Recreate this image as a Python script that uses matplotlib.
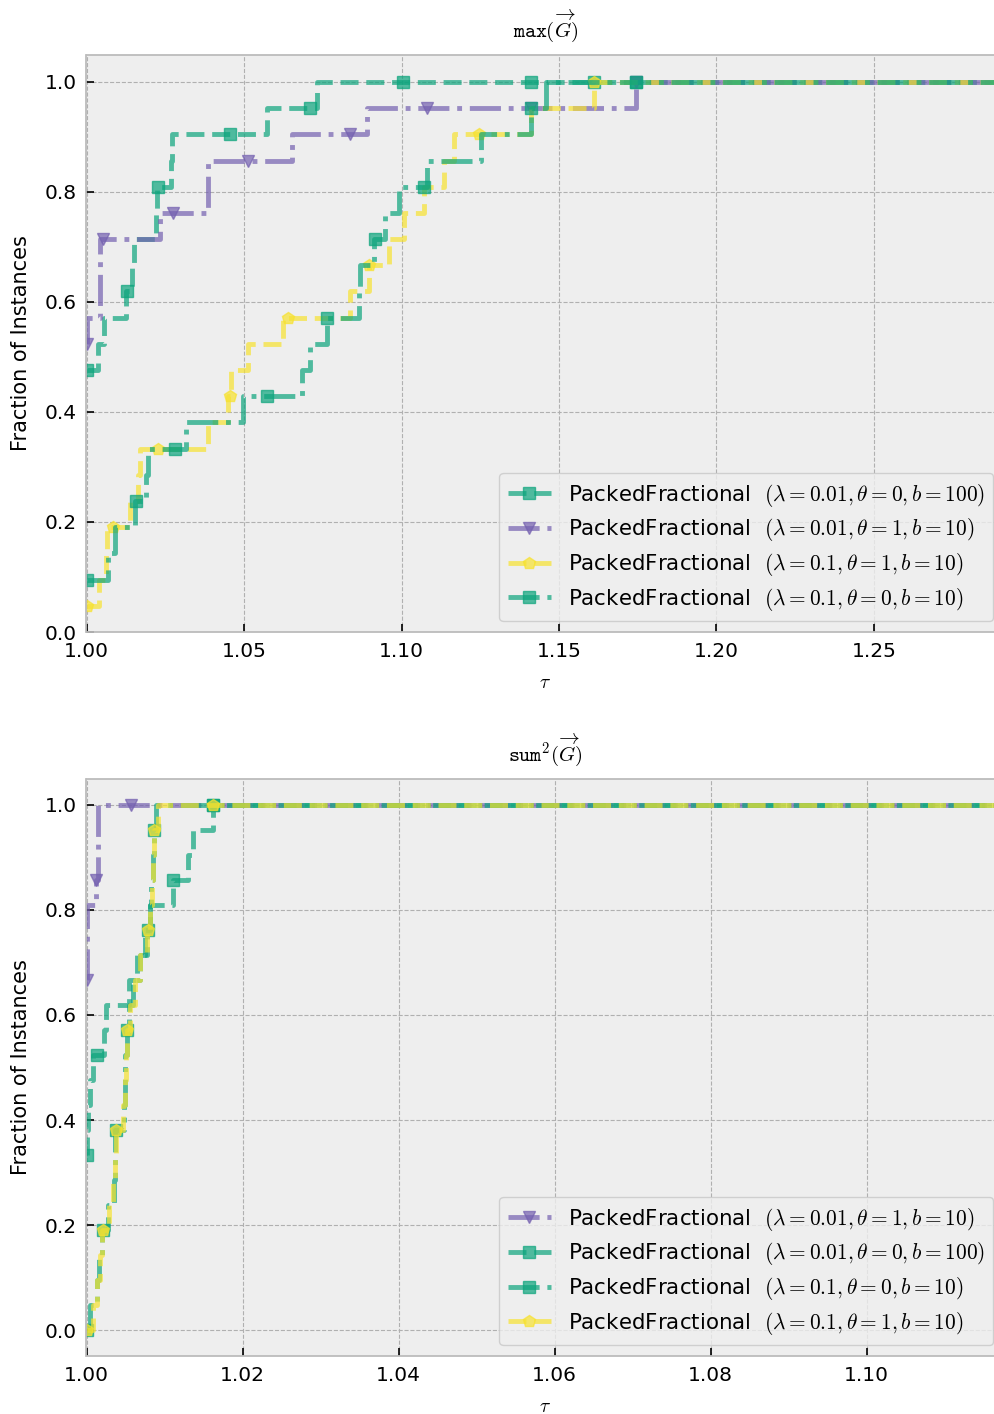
import numpy as np
import matplotlib

matplotlib.use("Agg")
import matplotlib.pyplot as plt  # noqa: E402

N_INSTANCES = 21

LABEL_A = r"PackedFractional  $(\lambda=0.01, \theta=0, b=100)$"
LABEL_B = r"PackedFractional  $(\lambda=0.01, \theta=1, b=10)$"
LABEL_C = r"PackedFractional  $(\lambda=0.1, \theta=1, b=10)$"
LABEL_D = r"PackedFractional  $(\lambda=0.1, \theta=0, b=10)$"

# --- max(G): sorted performance ratios per configuration (21 instances) ---
MAX_A_RATIOS = [1.0] * 10 + [1.0036, 1.0057, 1.0125, 1.0145, 1.015, 1.0222,
                             1.0225, 1.0268, 1.0272, 1.0572, 1.0731]
MAX_B_RATIOS = [1.0] * 11 + [1.0002, 1.0042, 1.0043, 1.0044, 1.0232, 1.0386,
                             1.0387, 1.0651, 1.089, 1.1745]
MAX_C_RATIOS = [1.0, 1.0041, 1.0062, 1.0064, 1.0137, 1.0165, 1.017, 1.0386,
                1.045, 1.0458, 1.0514, 1.0625, 1.0838, 1.0896, 1.096, 1.1007,
                1.1071, 1.1135, 1.1167, 1.141, 1.161]
MAX_D_RATIOS = [1.0, 1.0, 1.0068, 1.0092, 1.0155, 1.019, 1.0195, 1.0317,
                1.0498, 1.0684, 1.071, 1.0762, 1.0865, 1.0869, 1.0912, 1.0949,
                1.0992, 1.1082, 1.1252, 1.141, 1.1459]

MAX_A_MARKS = [1.0, 1.013, 1.0227, 1.0455, 1.071, 1.1006, 1.141, 1.1612, 1.1745]
MAX_B_MARKS = [1.0, 1.0052, 1.0275, 1.0514, 1.0838, 1.1082, 1.141, 1.1745]
MAX_C_MARKS = [1.0, 1.0084, 1.0227, 1.0455, 1.064, 1.0896, 1.1246, 1.161]
MAX_D_MARKS = [1.0, 1.0158, 1.028, 1.0572, 1.0765, 1.0917, 1.1071, 1.141, 1.1745]

# --- sum^2(G) ---
SUM_A_RATIOS = [1.0] * 7 + [1.0001, 1.0002, 1.0004, 1.0008, 1.0022, 1.0025,
                            1.0055, 1.0065, 1.0075, 1.0082, 1.0111, 1.013,
                            1.0136, 1.0162]
SUM_B_RATIOS = [1.0] * 14 + [1.0001, 1.0001, 1.0001, 1.0012, 1.00145,
                             1.00145, 1.00145]
SUM_C_RATIOS = [1.0008, 1.0014, 1.0017, 1.002, 1.0029, 1.0034, 1.0036, 1.0038,
                1.0047, 1.0049, 1.0051, 1.0052, 1.0056, 1.0062, 1.0069, 1.0078,
                1.0082, 1.0084, 1.0085, 1.0087, 1.0092]
SUM_D_RATIOS = [1.0004, 1.0013, 1.0016, 1.002, 1.0028, 1.0035, 1.0036, 1.0037,
                1.0048, 1.0049, 1.005, 1.0052, 1.0055, 1.006, 1.0068, 1.0077,
                1.0081, 1.0083, 1.0085, 1.0086, 1.0089]

SUM_A_MARKS = [1.0, 1.0014, 1.0111, 1.0162]
SUM_B_MARKS = [1.0, 1.0012, 1.0057]
SUM_C_MARKS = [1.0, 1.0021, 1.0038, 1.0052, 1.0079, 1.0087, 1.0162]
SUM_D_MARKS = [1.0, 1.0021, 1.0038, 1.0052, 1.0079, 1.0087, 1.0162]

MAX_XTICKS = [1.00, 1.05, 1.10, 1.15, 1.20, 1.25]
SUM_XTICKS = [1.00, 1.02, 1.04, 1.06, 1.08, 1.10]
YTICKS = [0.0, 0.2, 0.4, 0.6, 0.8, 1.0]

STYLE = {
    "A": dict(color="#0ca47c", linestyle="--", marker="s"),
    "B": dict(color="#7460b0", linestyle="-.", marker="v"),
    "C": dict(color="#f7e230", linestyle="--", marker="p"),
    "D": dict(color="#0ca47c", linestyle="-.", marker="s"),
}

plt.rcParams["mathtext.fontset"] = "cm"
plt.rcParams["font.family"] = "DejaVu Sans"


def _profile(ax, ratios, marks, key, label, xmax):
    r = np.sort(np.asarray(ratios, dtype=float))
    grid = np.unique(np.concatenate([r, marks, [1.0, xmax]]))
    y = np.searchsorted(r, grid, side="right") / N_INSTANCES
    mark_idx = [int(np.searchsorted(grid, m)) for m in marks]
    st = STYLE[key]
    ax.plot(grid, y, drawstyle="steps-post", color=st["color"],
            linestyle=st["linestyle"], marker=st["marker"], markersize=9,
            markevery=mark_idx, linewidth=3.5, alpha=0.7, label=label)


def _style_axes(ax, title, xlim, ylim, xticks):
    ax.set_facecolor("#eeeeee")
    for s in ax.spines.values():
        s.set_color("#bcbcbc")
        s.set_linewidth(1.3)
    ax.set_xlim(*xlim)
    ax.set_ylim(*ylim)
    ax.set_xticks(xticks)
    ax.set_xticklabels([f"{t:.2f}" for t in xticks])
    ax.set_yticks(YTICKS)
    ax.set_yticklabels([f"{t:.1f}" for t in YTICKS])
    ax.tick_params(direction="in", length=6, width=1.2, color="black",
                   labelsize=14.5, pad=7, top=False, right=False)
    ax.grid(True, color="#b0b0b0", linestyle="--", linewidth=0.8)
    ax.set_axisbelow(True)
    ax.set_title(title, fontsize=15, pad=13)
    ax.set_xlabel(r"$\tau$", fontsize=14, labelpad=9)
    ax.set_ylabel("Fraction of Instances", fontsize=15, labelpad=10)
    ax.legend(loc="lower right", fontsize=15.4, framealpha=0.8,
              labelspacing=0.36, facecolor="#eeeeee", edgecolor="#c8c8c8",
              borderaxespad=0.5)


fig = plt.figure(figsize=(9.95, 14.14), dpi=100)
W = 995.0
H = 1414.0
left = 86.5 / W
width = (1004 - 86.5) / W

ax_top = fig.add_axes([left, 1 - 632 / H, width, (632 - 55) / H])
_profile(ax_top, MAX_A_RATIOS, MAX_A_MARKS, "A", LABEL_A, 1.4)
_profile(ax_top, MAX_B_RATIOS, MAX_B_MARKS, "B", LABEL_B, 1.4)
_profile(ax_top, MAX_C_RATIOS, MAX_C_MARKS, "C", LABEL_C, 1.4)
_profile(ax_top, MAX_D_RATIOS, MAX_D_MARKS, "D", LABEL_D, 1.4)
_style_axes(ax_top, r"$\mathtt{max}(\overrightarrow{G})$",
            (1.0, 1.0 + (1004 - 86.5) / 3150), (0.0, 1.049), MAX_XTICKS)

ax_bot = fig.add_axes([left, 1 - 1356 / H, width, (1356 - 779) / H])
_profile(ax_bot, SUM_B_RATIOS, SUM_B_MARKS, "B", LABEL_B, 1.2)
_profile(ax_bot, SUM_A_RATIOS, SUM_A_MARKS, "A", LABEL_A, 1.2)
_profile(ax_bot, SUM_D_RATIOS, SUM_D_MARKS, "D", LABEL_D, 1.2)
_profile(ax_bot, SUM_C_RATIOS, SUM_C_MARKS, "C", LABEL_C, 1.2)
_style_axes(ax_bot, r"$\mathtt{sum}^2(\overrightarrow{G})$",
            (1.0, 1.0 + (1004 - 86.5) / 7800), (-0.0495, 1.0495), SUM_XTICKS)

fig.savefig("out.png", dpi=100)
